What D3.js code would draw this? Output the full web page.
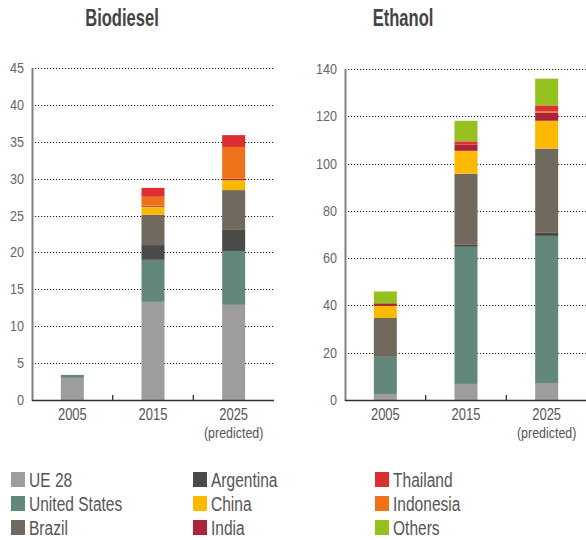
<!DOCTYPE html>
<html>
<head>
<meta charset="utf-8">
<script src="https://cdn.jsdelivr.net/npm/d3@7"></script>
<style>
  html, body { margin: 0; padding: 0; background: #fff; }
  svg { display: block; font-family: "Liberation Sans", Arial, sans-serif; }
</style>
</head>
<body>
<svg id="chart" width="586" height="540"></svg>
<script>
// Years shown on each panel
const years = ["2005", "2015", "2025"];
const yearNotes = ["", "", "(predicted)"];

// Stack order, bottom to top
const series = ["UE 28", "United States", "Argentina", "Brazil", "China", "India", "Indonesia", "Thailand", "Others"];
const seriesColors = ["#9d9d9b", "#62887a", "#4a4a48", "#72695e", "#fbb900", "#ab243a", "#ee7219", "#dd2e32", "#95c11f"];

// Biodiesel production by region (per year: 2005, 2015, 2025)
const bioUE28      = [3.0, 13.3, 12.9];
const bioUS        = [0.4, 5.7, 7.3];
const bioArgentina = [0, 2.0, 2.85];
const bioBrazil    = [0, 4.1, 5.4];
const bioChina     = [0, 1.1, 1.35];
const bioIndia     = [0, 0.15, 0.2];
const bioIndonesia = [0, 1.2, 4.3];
const bioThailand  = [0, 1.2, 1.6];
const bioOthers    = [0, 0, 0];
const bioTicks = [0, 5, 10, 15, 20, 25, 30, 35, 40, 45];

// Ethanol production by region (per year: 2005, 2015, 2025)
const ethUE28      = [2.5, 6.8, 7.2];
const ethUS        = [16.1, 58.0, 62.2];
const ethArgentina = [0, 0.8, 1.3];
const ethBrazil    = [16.1, 30.1, 35.6];
const ethChina     = [5.1, 9.7, 11.8];
const ethIndia     = [1.1, 2.6, 3.4];
const ethIndonesia = [0, 0, 0.6];
const ethThailand  = [0, 1.4, 2.5];
const ethOthers    = [5.0, 8.7, 11.3];
const ethTicks = [0, 20, 40, 60, 80, 100, 120, 140];

const legendColumns = [
  ["UE 28", "United States", "Brazil"],
  ["Argentina", "China", "India"],
  ["Thailand", "Indonesia", "Others"]
];

const svg = d3.select("#chart");
const color = d3.scaleOrdinal().domain(series).range(seriesColors);

// Condensed-looking text: horizontally squeezed around its anchor point
function label(parent, x, y, txt, o) {
  return parent.append("text")
    .attr("transform", `translate(${x},${y}) scale(${o.sx},1)`)
    .attr("text-anchor", o.anchor || "start")
    .attr("font-size", o.size)
    .attr("font-weight", o.weight || "normal")
    .attr("fill", o.fill || "#555")
    .text(txt);
}

function toRows(cols) {
  return years.map((yr, i) => {
    const row = { year: yr };
    series.forEach((s, k) => { row[s] = cols[k][i]; });
    return row;
  });
}

function panel(opts) {
  const g = svg.append("g");
  const x = d3.scaleBand().domain(years).range([opts.x0, opts.x1])
    .paddingInner(0.715).paddingOuter(0.3575);
  const y = d3.scaleLinear().domain([0, opts.max]).range([400, opts.top]);

  // title
  label(g, opts.titleX, 26, opts.title, { size: 23, sx: 0.72, anchor: "middle", weight: "bold", fill: "#444" });

  // dotted gridlines
  g.selectAll("line.grid").data(opts.ticks.filter(t => t > 0)).join("line")
    .attr("class", "grid")
    .attr("x1", opts.x0).attr("x2", opts.gridEnd)
    .attr("y1", d => Math.round(y(d)) + 0.5).attr("y2", d => Math.round(y(d)) + 0.5)
    .attr("stroke", "#222").attr("stroke-width", 1.1)
    .attr("stroke-dasharray", "1.2,1.8");

  // y tick labels
  opts.ticks.forEach(t => {
    label(g, opts.x0 - 8, y(t) + 5, String(t), { size: 14, sx: 0.9, anchor: "end", fill: "#666" });
  });

  // stacked bars
  const stack = d3.stack().keys(series);
  const layers = stack(toRows(opts.cols));
  g.append("g").selectAll("g").data(layers).join("g")
    .attr("fill", d => color(d.key))
    .selectAll("rect").data(d => d.filter(p => p[1] - p[0] > 0)).join("rect")
    .attr("x", d => x(d.data.year))
    .attr("width", x.bandwidth())
    .attr("y", d => y(d[1]))
    .attr("height", d => y(d[0]) - y(d[1]));

  // axis lines
  g.append("line")
    .attr("x1", opts.x0 + 0.5).attr("x2", opts.x0 + 0.5)
    .attr("y1", y(opts.max)).attr("y2", 401)
    .attr("stroke", "#808080").attr("stroke-width", 2);
  g.append("line")
    .attr("x1", opts.x0).attr("x2", opts.x1)
    .attr("y1", 400.5).attr("y2", 400.5)
    .attr("stroke", "#333").attr("stroke-width", 1.3);

  // separator ticks between years
  const step = x.step();
  g.selectAll("line.sep").data([1, 2]).join("line")
    .attr("class", "sep")
    .attr("x1", d => opts.x0 + d * step).attr("x2", d => opts.x0 + d * step)
    .attr("y1", 395).attr("y2", 400)
    .attr("stroke", "#333").attr("stroke-width", 1.3);

  // year labels
  years.forEach((yr, i) => {
    const cx = x(yr) + x.bandwidth() / 2;
    label(g, cx, 420, yr, { size: 16, sx: 0.81, anchor: "middle", fill: "#555" });
    if (yearNotes[i]) label(g, cx, 438, yearNotes[i], { size: 15, sx: 0.83, anchor: "middle", fill: "#555" });
  });
}

panel({
  title: "Biodiesel", titleX: 122,
  x0: 32, x1: 274, gridEnd: 274, top: 68, max: 45, ticks: bioTicks,
  cols: [bioUE28, bioUS, bioArgentina, bioBrazil, bioChina, bioIndia, bioIndonesia, bioThailand, bioOthers]
});

panel({
  title: "Ethanol", titleX: 403,
  x0: 345, x1: 587, gridEnd: 586, top: 69, max: 140, ticks: ethTicks,
  cols: [ethUE28, ethUS, ethArgentina, ethBrazil, ethChina, ethIndia, ethIndonesia, ethThailand, ethOthers]
});

// legend
const colX = [11, 193, 375];
const legend = svg.append("g");
legendColumns.forEach((col, ci) => {
  col.forEach((name, ri) => {
    const item = legend.append("g")
      .attr("transform", `translate(${colX[ci]},${472 + ri * 24})`);
    item.append("rect").attr("width", 14).attr("height", 15).attr("fill", color(name));
    label(item, 18, 15, name, { size: 21, sx: 0.74, fill: "#555" });
  });
});
</script>
</body>
</html>
